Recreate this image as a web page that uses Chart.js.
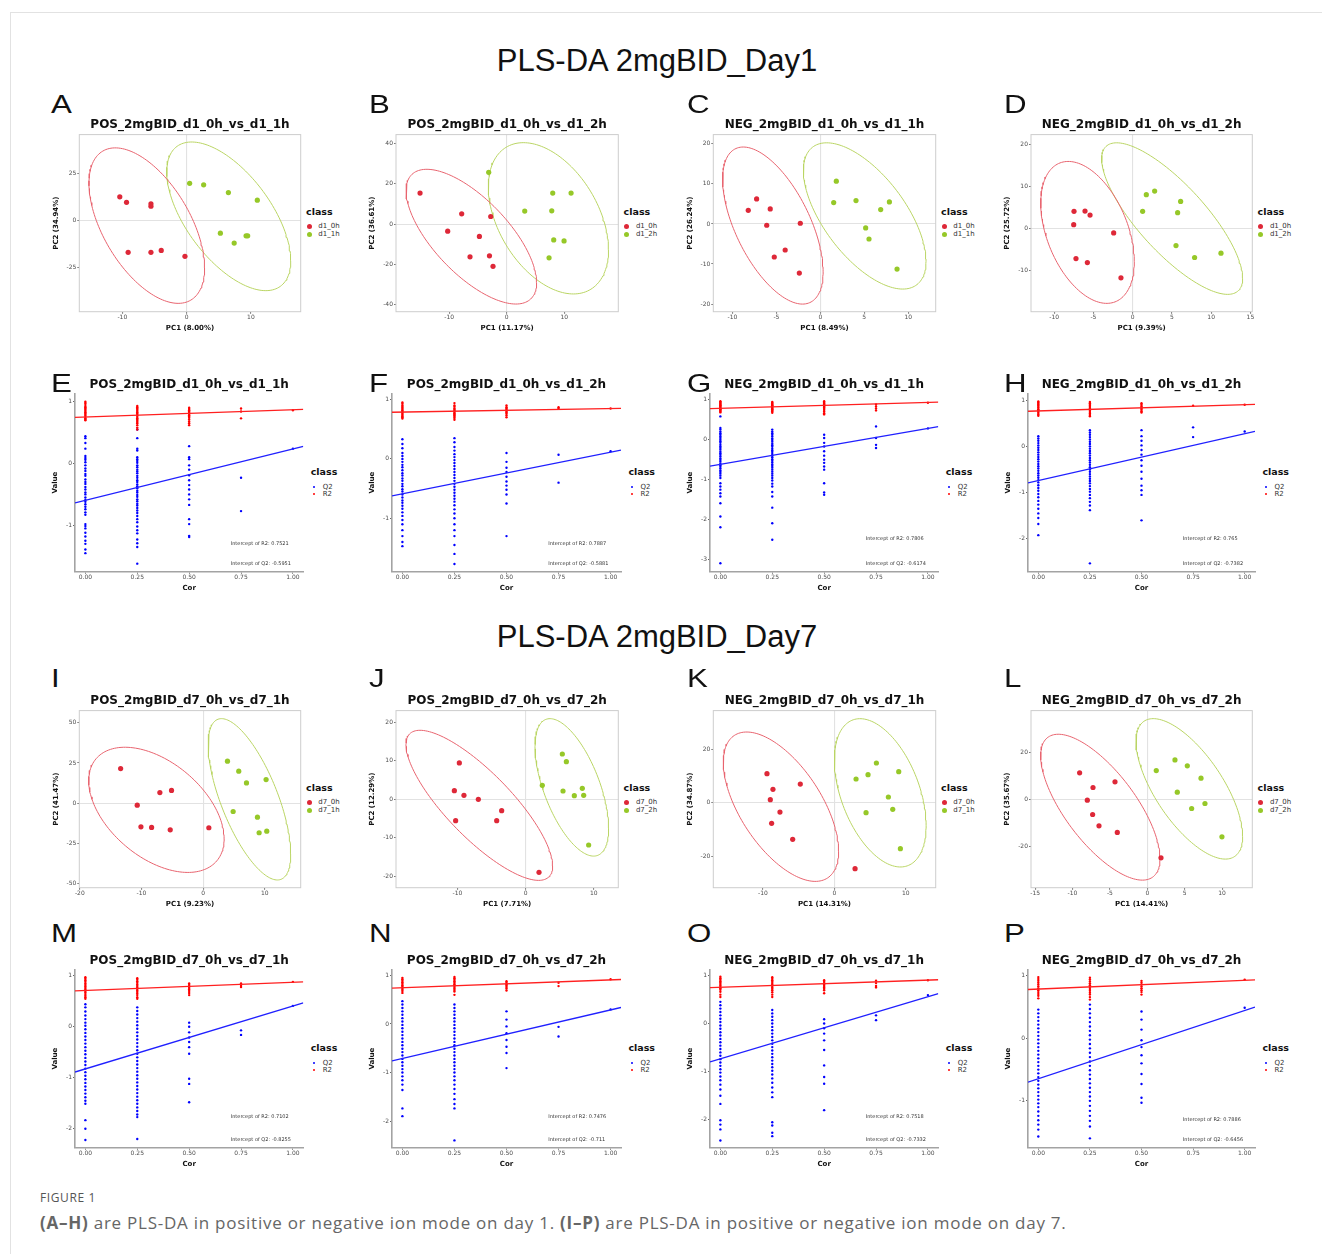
<!DOCTYPE html>
<html>
<head>
<meta charset="utf-8">
<title>PLS-DA 2mgBID</title>
<script src="https://cdn.jsdelivr.net/npm/chart.js@4.4.1/dist/chart.umd.min.js"></script>
<style>
  body { margin: 0; background: #fff; }
  #fig { position: relative; width: 1322px; height: 1254px; overflow: hidden; font-family: "DejaVu Sans", sans-serif; }
  #frame { position: absolute; left: 10px; top: 12px; width: 1312px; height: 1242px; border-left: 1px solid #e2e2e2; border-top: 1px solid #e2e2e2; }
  .lbl { position: absolute; white-space: nowrap; line-height: 1; }
  .dot { position: absolute; border-radius: 50%; }
  canvas { position: absolute; }
</style>
</head>
<body>
<div id="fig"><div id="frame"></div></div>
<script>
// ---------- PLS-DA score plots: [PC1, PC2] per sample ----------
// ellipse = [centre x, centre y, half x-extent, half y-extent, x at the top of the ellipse]
const A_red = [[-10.4,12.5],[-9.35,9.6],[-5.55,8.8],[-5.55,7.5],[-9.1,-16.8],[-5.55,-16.8],[-3.95,-15.8],[-0.26,-18.9]];
const A_green = [[0.47,19.6],[2.65,18.8],[6.5,14.7],[11.0,10.7],[5.25,-6.7],[7.4,-11.9],[9.25,-8.1],[9.5,-8.1]];
const A_ell = [[-6.2,-2.7,9.0,41,-11.1],[6.55,2.2,9.65,39.2,0.78]];

const B_red = [[-15.07,15.4],[-7.83,5.1],[-2.78,3.8],[-10.26,-3.5],[-4.75,-6.1],[-6.38,-16.2],[-3.0,-15.7],[-2.38,-20.9]];
const B_green = [[-3.13,25.7],[8.0,15.4],[11.19,15.4],[3.13,6.5],[7.83,6.6],[8.17,-7.8],[9.97,-8.3],[7.36,-16.7]];
const B_ell = [[-6.15,-6.2,11.35,33.4,-13.9],[7.25,2.9,10.45,37.5,2.9]];

const C_red = [[-7.25,6.25],[-8.2,3.4],[-5.7,3.75],[-6.1,-0.33],[-2.28,0.17],[-4.0,-6.5],[-5.24,-8.25],[-2.39,-12.25]];
const C_green = [[1.82,10.67],[1.52,5.33],[4.06,5.83],[7.86,5.5],[6.87,3.58],[5.16,-1.0],[5.54,-3.75],[8.73,-11.25]];
const C_ell = [[-5.4,-0.4,5.72,19.6,-8.77],[5.05,2.0,6.98,18.25,0.72]];

const D_red = [[-7.47,4.13],[-6.07,4.2],[-5.43,3.25],[-7.51,0.95],[-2.42,-1.03],[-7.22,-7.14],[-5.77,-8.1],[-1.49,-11.75]];
const D_green = [[1.74,8.1],[2.8,8.97],[1.27,4.13],[6.11,6.5],[5.73,3.8],[5.52,-4.05],[7.89,-6.9],[11.25,-5.87]];
const D_ell = [[-5.75,-0.9,5.96,16.95,-8.2],[5.03,2.4,8.98,18.1,-2.04]];

const I_red = [[-13.38,21.5],[-7.02,6.6],[-5.13,7.9],[-10.69,-1.24],[-10.09,-14.7],[-8.36,-15.1],[-5.34,-16.6],[0.92,-15.3]];
const I_green = [[3.94,26.1],[5.77,19.9],[7.02,12.6],[10.2,14.7],[4.86,-5.2],[8.8,-8.7],[9.07,-18.4],[10.31,-17.4]];
const I_ell = [[-7.58,-4.15,10.98,38.95,-12.68],[7.5,2.4,6.69,50.2,2.97]];

const J_red = [[-9.73,9.44],[-10.46,2.25],[-9.05,1.04],[-6.94,0],[-3.52,-2.94],[-4.25,-5.54],[-10.27,-5.54],[1.96,-18.96]];
const J_green = [[5.38,11.77],[5.97,9.78],[2.44,3.64],[5.48,2.16],[8.31,2.86],[7.14,0.95],[8.51,1.04],[9.24,-11.86]];
const J_ell = [[-6.8,-1.56,10.76,19.48,-15.5],[6.77,3.1,5.4,17.84,3.57]];

const K_red = [[-9.44,10.83],[-8.6,4.98],[-8.97,1.12],[-7.62,-3.49],[-4.77,6.97],[-8.79,-7.72],[-5.84,-13.7],[2.9,-24.66]];
const K_green = [[3.04,8.84],[4.72,10.46],[5.89,14.82],[9.02,11.58],[7.57,2.12],[8.18,-2.49],[4.44,-3.74],[9.25,-17.19]];
const K_ell = [[-7.48,-1.5,8.08,27.9,-12.29],[6.43,3.68,6.43,27.7,3.6]];

const L_red = [[-9.05,11.27],[-7.26,5.07],[-8.02,-0.28],[-7.31,-6.34],[-6.46,-11.13],[-4.32,7.46],[-4.01,-13.94],[1.83,-24.65]];
const L_green = [[1.2,12.25],[3.7,16.76],[5.35,14.23],[7.18,9.01],[4.01,3.1],[7.71,-1.69],[5.93,-3.8],[9.98,-15.77]];
const L_ell = [[-6.28,-3.25,7.98,30.85,-11.9],[5.62,4.5,7.13,29.7,0.8]];

// ---------- permutation tests: values per Cor level ----------
const corLevels = [0, 0.25, 0.5, 0.75, 1];
const corTickLabels = ['0.00', '0.25', '0.50', '0.75', '1.00'];

const E_r2 = [[1.0,0.98,0.96,0.93,0.91,0.89,0.87,0.85,0.83,0.81,0.79,0.77,0.75,0.73,0.71,0.7],
  [0.93,0.91,0.89,0.87,0.85,0.83,0.81,0.79,0.77,0.75,0.73,0.71,0.69,0.67,0.65,0.62,0.58,0.55],
  [0.9,0.88,0.86,0.84,0.82,0.8,0.78,0.76,0.74,0.71,0.68,0.65,0.62],[0.89,0.84,0.73],[0.86]];
const E_q2 = [[0.44,0.41,0.33,0.24,0.12,0.09,0.06,0.02,-0.03,-0.08,-0.12,-0.17,-0.2,-0.26,-0.3,-0.33,-0.38,-0.42,-0.47,-0.5,-0.55,-0.59,-0.62,-0.66,-0.7,-0.74,-0.79,-0.83,-0.98,-1.01,-1.05,-1.12,-1.18,-1.25,-1.3,-1.39,-1.45],
  [0.55,0.41,0.24,0.21,0.1,0.07,0.04,0.01,-0.03,-0.06,-0.1,-0.13,-0.16,-0.2,-0.23,-0.27,-0.3,-0.34,-0.37,-0.4,-0.44,-0.47,-0.51,-0.54,-0.58,-0.61,-0.65,-0.68,-0.72,-0.76,-0.8,-0.85,-0.9,-0.95,-1.02,-1.08,-1.13,-1.23,-1.29,-1.35,-1.62],
  [0.28,0.1,0.07,-0.03,-0.1,-0.19,-0.27,-0.35,-0.42,-0.5,-0.58,-0.67,-0.9,-0.98,-1.17,-1.19],[-0.23,-0.77],[0.24]];
const E_fit = [[0.7521, 0.116], [-0.5951, 0.829]]; // [intercept, slope] for R2, Q2

const F_r2 = [[0.95,0.93,0.9,0.88,0.86,0.84,0.82,0.8,0.78,0.76,0.74,0.72,0.7,0.68],
  [0.94,0.9,0.88,0.85,0.83,0.81,0.79,0.77,0.75,0.73,0.71,0.69,0.66],
  [0.9,0.87,0.85,0.83,0.8,0.78,0.76,0.73,0.7],[0.87,0.85],[0.85]];
const F_q2 = [[0.33,0.25,0.18,0.1,0.05,0.0,-0.05,-0.1,-0.14,-0.19,-0.24,-0.28,-0.33,-0.37,-0.42,-0.46,-0.51,-0.55,-0.6,-0.65,-0.7,-0.74,-0.79,-0.84,-0.9,-0.96,-1.03,-1.1,-1.2,-1.3,-1.4,-1.47],
  [0.35,0.28,0.2,0.14,0.08,0.03,-0.02,-0.07,-0.12,-0.17,-0.22,-0.27,-0.32,-0.37,-0.42,-0.47,-0.52,-0.57,-0.62,-0.67,-0.72,-0.78,-0.85,-0.92,-1.0,-1.1,-1.2,-1.3,-1.45,-1.6,-1.77],
  [0.1,-0.05,-0.15,-0.22,-0.3,-0.38,-0.45,-0.52,-0.6,-0.75,-1.3],[0.07,-0.4],[0.13]];
const F_fit = [[0.7887, 0.06], [-0.5881, 0.7]];

const G_r2 = [[0.96,0.94,0.92,0.9,0.88,0.86,0.84,0.82,0.8,0.78,0.76,0.74,0.72,0.7,0.68],
  [0.94,0.92,0.9,0.88,0.86,0.84,0.82,0.8,0.78,0.76,0.74,0.72,0.7,0.67],
  [0.96,0.93,0.9,0.88,0.86,0.84,0.82,0.8,0.77,0.74,0.7,0.66,0.63],[0.88,0.83,0.78,0.73],[0.92]];
const G_q2 = [[0.58,0.29,0.25,0.2,0.16,0.12,0.08,0.04,0.0,-0.04,-0.08,-0.13,-0.17,-0.21,-0.25,-0.3,-0.34,-0.38,-0.42,-0.47,-0.51,-0.55,-0.6,-0.64,-0.68,-0.72,-0.77,-0.81,-0.85,-0.9,-0.96,-1.09,-1.17,-1.25,-1.34,-1.42,-1.59,-1.92,-2.19,-3.09],
  [0.25,0.2,0.16,0.12,0.08,0.03,-0.01,-0.05,-0.1,-0.14,-0.18,-0.23,-0.27,-0.31,-0.36,-0.4,-0.44,-0.49,-0.53,-0.57,-0.62,-0.66,-0.7,-0.75,-0.8,-0.85,-0.9,-0.96,-1.02,-1.1,-1.17,-1.31,-1.42,-1.7,-2.09,-2.5],
  [0.12,0.04,-0.08,-0.17,-0.29,-0.4,-0.5,-0.58,-0.67,-0.75,-1.09,-1.32,-1.38],[0.33,0.04,-0.13,-0.21],[0.28]];
const G_fit = [[0.7806, 0.147], [-0.6174, 0.895]];

const H_r2 = [[0.97,0.95,0.92,0.9,0.88,0.85,0.83,0.8,0.78,0.75,0.72,0.69,0.66],
  [0.96,0.93,0.9,0.88,0.85,0.82,0.8,0.77,0.74,0.71,0.68,0.65],
  [0.93,0.9,0.87,0.85,0.82,0.79,0.76,0.73],[0.88],[0.9]];
const H_q2 = [[0.22,0.17,0.12,0.07,0.02,-0.03,-0.08,-0.13,-0.18,-0.23,-0.28,-0.33,-0.38,-0.43,-0.48,-0.53,-0.58,-0.63,-0.68,-0.73,-0.78,-0.84,-0.9,-0.96,-1.03,-1.1,-1.18,-1.26,-1.35,-1.45,-1.55,-1.68,-1.92],
  [0.35,0.3,0.25,0.2,0.15,0.1,0.05,0.0,-0.05,-0.1,-0.15,-0.2,-0.25,-0.3,-0.35,-0.4,-0.45,-0.5,-0.55,-0.6,-0.65,-0.7,-0.75,-0.8,-0.86,-0.92,-0.98,-1.05,-1.12,-1.2,-1.28,-1.38,-2.53],
  [0.35,0.22,0.12,0.02,-0.08,-0.18,-0.3,-0.42,-0.55,-0.7,-0.85,-0.95,-1.05,-1.6],[0.41,0.2],[0.32]];
const H_fit = [[0.765, 0.135], [-0.7382, 1.01]];

const M_r2 = [[0.97,0.94,0.91,0.88,0.85,0.82,0.79,0.76,0.73,0.7,0.67,0.64,0.61,0.58,0.55],
  [0.95,0.92,0.89,0.86,0.83,0.8,0.77,0.74,0.71,0.68,0.65,0.62,0.58,0.55],
  [0.85,0.82,0.79,0.76,0.73,0.7,0.66,0.62],[0.85,0.82,0.78],[0.88]];
const M_q2 = [[0.44,0.38,0.3,0.22,0.15,0.08,0.02,-0.05,-0.12,-0.19,-0.26,-0.33,-0.4,-0.47,-0.54,-0.61,-0.68,-0.75,-0.82,-0.89,-0.96,-1.03,-1.1,-1.17,-1.24,-1.31,-1.38,-1.45,-1.51,-1.83,-2.0,-2.22],
  [0.38,0.31,0.24,0.17,0.1,0.03,-0.04,-0.11,-0.18,-0.25,-0.32,-0.39,-0.46,-0.53,-0.6,-0.67,-0.74,-0.81,-0.88,-0.95,-1.02,-1.09,-1.16,-1.23,-1.3,-1.37,-1.44,-1.51,-1.58,-1.65,-1.72,-1.77,-2.2],
  [0.08,0.0,-0.11,-0.21,-0.3,-0.4,-0.53,-1.02,-1.12,-1.48],[-0.07,-0.16],[0.41]];
const M_fit = [[0.7102, 0.16], [-0.8255, 1.23]];

const N_r2 = [[0.95,0.92,0.89,0.86,0.83,0.8,0.77,0.74,0.71,0.68,0.64],
  [0.97,0.94,0.91,0.88,0.85,0.82,0.79,0.76,0.73,0.7,0.67,0.6],
  [0.88,0.85,0.82,0.79,0.76,0.73,0.69],[0.85,0.78],[0.92]];
const N_q2 = [[0.47,0.4,0.33,0.26,0.19,0.12,0.05,-0.02,-0.09,-0.16,-0.23,-0.3,-0.37,-0.44,-0.51,-0.58,-0.65,-0.72,-0.79,-0.86,-0.93,-1.0,-1.08,-1.16,-1.25,-1.36,-1.74,-1.9],
  [0.4,0.33,0.26,0.19,0.12,0.05,-0.02,-0.09,-0.16,-0.23,-0.3,-0.37,-0.44,-0.51,-0.58,-0.65,-0.72,-0.79,-0.86,-0.93,-1.0,-1.08,-1.16,-1.25,-1.34,-1.44,-1.55,-1.65,-1.74,-2.4],
  [0.26,0.09,-0.05,-0.19,-0.33,-0.47,-0.6,-0.91],[-0.06,-0.26],[0.3]];
const N_fit = [[0.7476, 0.16], [-0.711, 1.0]];

const O_r2 = [[0.97,0.94,0.91,0.88,0.85,0.82,0.79,0.76,0.73,0.7,0.66,0.6,0.55],
  [0.96,0.93,0.9,0.87,0.84,0.81,0.78,0.75,0.72,0.69,0.65,0.6,0.55],
  [0.9,0.87,0.84,0.81,0.78,0.75,0.72,0.69,0.63],[0.89,0.84,0.78,0.75],[0.9]];
const O_q2 = [[0.45,0.38,0.31,0.24,0.17,0.1,0.03,-0.04,-0.11,-0.18,-0.25,-0.32,-0.39,-0.46,-0.53,-0.6,-0.67,-0.74,-0.81,-0.88,-0.95,-1.02,-1.1,-1.18,-1.27,-1.37,-1.5,-1.67,-2.01,-2.1,-2.2,-2.43],
  [0.28,0.21,0.14,0.07,0.0,-0.07,-0.14,-0.21,-0.28,-0.35,-0.42,-0.49,-0.56,-0.63,-0.7,-0.77,-0.84,-0.91,-0.98,-1.06,-1.14,-1.23,-1.33,-1.43,-1.53,-2.05,-2.12,-2.27,-2.34],
  [0.09,0.0,-0.1,-0.21,-0.35,-0.55,-0.87,-1.11,-1.25,-1.8],[0.17,0.07],[0.59]];
const O_fit = [[0.7518, 0.15], [-0.7332, 1.29]];

const P_r2 = [[0.98,0.95,0.92,0.89,0.86,0.83,0.8,0.77,0.74,0.71,0.68,0.64],
  [0.97,0.94,0.91,0.88,0.85,0.82,0.79,0.76,0.73,0.7,0.66,0.62],
  [0.92,0.89,0.86,0.83,0.8,0.77,0.74,0.7],[],[0.94]];
const P_q2 = [[0.46,0.4,0.34,0.28,0.22,0.16,0.1,0.04,-0.02,-0.08,-0.14,-0.2,-0.26,-0.32,-0.38,-0.44,-0.5,-0.56,-0.62,-0.68,-0.74,-0.8,-0.86,-0.92,-0.98,-1.04,-1.1,-1.17,-1.24,-1.31,-1.38,-1.46,-1.57],
  [0.54,0.47,0.4,0.33,0.26,0.19,0.12,0.05,-0.02,-0.09,-0.16,-0.23,-0.3,-0.37,-0.44,-0.51,-0.58,-0.65,-0.72,-0.79,-0.86,-0.93,-1.0,-1.08,-1.16,-1.24,-1.32,-1.41,-1.6],
  [0.43,0.3,0.14,-0.03,-0.14,-0.27,-0.4,-0.57,-0.73,-0.95,-1.03],[],[0.49]];
const P_fit = [[0.7886, 0.14], [-0.6456, 1.09]];

// ---------- panel list ----------
const pcaPanels = [
  { id:'A', col:0, row:0, title:'POS_2mgBID_d1_0h_vs_d1_1h', xt:'PC1 (8.00%)',  yt:'PC2 (34.94%)', groups:['d1_0h','d1_1h'], red:A_red, green:A_green, ell:A_ell, xr:[-16.7,17.75], yr:[-48.1,45.3], xticks:[-10,0,10], yticks:[-25,0,25] },
  { id:'B', col:1, row:0, title:'POS_2mgBID_d1_0h_vs_d1_2h', xt:'PC1 (11.17%)', yt:'PC2 (36.61%)', groups:['d1_0h','d1_2h'], red:B_red, green:B_green, ell:B_ell, xr:[-19.25,19.4], yr:[-43.4,44.4], xticks:[-10,0,10], yticks:[-40,-20,0,20,40] },
  { id:'C', col:2, row:0, title:'NEG_2mgBID_d1_0h_vs_d1_1h', xt:'PC1 (8.49%)',  yt:'PC2 (26.24%)', groups:['d1_0h','d1_1h'], red:C_red, green:C_green, ell:C_ell, xr:[-12.18,13.13], yr:[-21.9,22.3], xticks:[-10,-5,0,5,10], yticks:[-20,-10,0,10,20] },
  { id:'D', col:3, row:0, title:'NEG_2mgBID_d1_0h_vs_d1_2h', xt:'PC1 (9.39%)',  yt:'PC2 (25.72%)', groups:['d1_0h','d1_2h'], red:D_red, green:D_green, ell:D_ell, xr:[-12.95,15.24], yr:[-19.84,22.46], xticks:[-10,-5,0,5,10,15], yticks:[-10,0,10,20] },
  { id:'I', col:0, row:2, title:'POS_2mgBID_d7_0h_vs_d7_1h', xt:'PC1 (9.23%)',  yt:'PC2 (41.47%)', groups:['d7_0h','d7_1h'], red:I_red, green:I_green, ell:I_ell, xr:[-20.08,15.81], yr:[-52.6,57.6], xticks:[-20,-10,0,10], yticks:[-50,-25,0,25,50] },
  { id:'J', col:1, row:2, title:'POS_2mgBID_d7_0h_vs_d7_2h', xt:'PC1 (7.71%)',  yt:'PC2 (12.29%)', groups:['d7_0h','d7_2h'], red:J_red, green:J_green, ell:J_ell, xr:[-19.02,13.59], yr:[-22.94,23.03], xticks:[-10,0,10], yticks:[-20,-10,0,10,20] },
  { id:'K', col:2, row:2, title:'NEG_2mgBID_d7_0h_vs_d7_1h', xt:'PC1 (14.31%)', yt:'PC2 (34.87%)', groups:['d7_0h','d7_1h'], red:K_red, green:K_green, ell:K_ell, xr:[-16.96,14.2], yr:[-31.76,34.4], xticks:[-10,0,10], yticks:[-20,0,20] },
  { id:'L', col:3, row:2, title:'NEG_2mgBID_d7_0h_vs_d7_2h', xt:'PC1 (14.41%)', yt:'PC2 (35.67%)', groups:['d7_0h','d7_2h'], red:L_red, green:L_green, ell:L_ell, xr:[-15.55,14.04], yr:[-37.3,37.6], xticks:[-15,-10,-5,0,5,10], yticks:[-20,0,20] }
];
const permPanels = [
  { id:'E', col:0, row:1, title:'POS_2mgBID_d1_0h_vs_d1_1h', r2:E_r2, q2:E_q2, fit:E_fit, yr:[-1.75,1.13], yticks:[-1,0,1], txt:[28,8] },
  { id:'F', col:1, row:1, title:'POS_2mgBID_d1_0h_vs_d1_2h', r2:F_r2, q2:F_q2, fit:F_fit, yr:[-1.9,1.1], yticks:[-1,0,1], txt:[28,8] },
  { id:'G', col:2, row:1, title:'NEG_2mgBID_d1_0h_vs_d1_1h', r2:G_r2, q2:G_q2, fit:G_fit, yr:[-3.3,1.15], yticks:[-3,-2,-1,0,1], txt:[32.7,8.4] },
  { id:'H', col:3, row:1, title:'NEG_2mgBID_d1_0h_vs_d1_2h', r2:H_r2, q2:H_q2, fit:H_fit, yr:[-2.71,1.14], yticks:[-2,-1,0,1], txt:[32.7,8.4] },
  { id:'M', col:0, row:3, title:'POS_2mgBID_d7_0h_vs_d7_1h', r2:M_r2, q2:M_q2, fit:M_fit, yr:[-2.37,1.12], yticks:[-2,-1,0,1], txt:[30.7,7.7] },
  { id:'N', col:1, row:3, title:'POS_2mgBID_d7_0h_vs_d7_2h', r2:N_r2, q2:N_q2, fit:N_fit, yr:[-2.55,1.12], yticks:[-2,-1,0,1], txt:[30.7,7.7] },
  { id:'O', col:2, row:3, title:'NEG_2mgBID_d7_0h_vs_d7_1h', r2:O_r2, q2:O_q2, fit:O_fit, yr:[-2.58,1.12], yticks:[-2,-1,0,1], txt:[30.7,7.7] },
  { id:'P', col:3, row:3, title:'NEG_2mgBID_d7_0h_vs_d7_2h', r2:P_r2, q2:P_q2, fit:P_fit, yr:[-1.75,1.1], yticks:[-1,0,1], txt:[27.7,7.7] }
];

// ---------- layout ----------
const PCA_L = [79.3, 396, 713.3, 1031], PCA_R = [300.7, 618.3, 935.7, 1252.3];
const PERM_L = [75, 392, 710, 1028], PERM_R = [303.3, 621, 938.3, 1255];
const ROW_Y = [[134.3, 311.7], [393, 571.7], [710.3, 887.7], [969, 1147.7]];
const TITLE_Y = [124, 384, 700, 960];
const LETTER_X = [51, 369, 687, 1004], LETTER_Y = [104, 383, 678, 933];

const FONT = "'DejaVu Sans', sans-serif";
const RED = '#DE2838', GREEN = '#96C828', RED_ELL = '#E8646F', GREEN_ELL = '#BAD564';
const fig = document.getElementById('fig');

function put(html, x, y, css, anchor) {
  const d = document.createElement('div');
  d.className = 'lbl';
  d.innerHTML = html;
  const tf = anchor === 'cm' ? 'translate(-50%,-50%)'
           : anchor === 'wide' ? 'translate(0,-50%) scaleX(1.25)' : 'translate(0,-50%)';
  d.style.cssText += css + ';left:' + x + 'px;top:' + y + 'px;transform-origin:left center;transform:' + tf;
  fig.appendChild(d);
}
function dot(x, y, r, color) {
  const d = document.createElement('div');
  d.className = 'dot';
  d.style.cssText = 'left:' + (x - r) + 'px;top:' + (y - r) + 'px;width:' + 2 * r + 'px;height:' + 2 * r + 'px;background:' + color;
  fig.appendChild(d);
}
function makeCanvas(l, t, w, h) {
  const c = document.createElement('canvas');
  c.width = w; c.height = h;
  c.style.left = l + 'px'; c.style.top = t + 'px';
  fig.appendChild(c);
  return c;
}
function ellipsePts(e) {
  const d = Math.acos((e[4] - e[0]) / e[2]);
  const pts = [];
  for (let i = 0; i <= 160; i++) {
    const t = i / 160 * 2 * Math.PI;
    pts.push({ x: e[0] + e[2] * Math.cos(t), y: e[1] + e[3] * Math.cos(t - d) });
  }
  return pts;
}

const framePlugin = {
  id: 'frame',
  beforeDatasetsDraw(chart) {
    const a = chart.chartArea, c = chart.ctx;
    c.save();
    c.strokeStyle = '#cdcdcd'; c.lineWidth = 1;
    c.strokeRect(a.left, a.top, a.right - a.left, a.bottom - a.top);
    c.restore();
  }
};
const interceptPlugin = {
  id: 'intercepts',
  afterDatasetsDraw(chart, args, o) {
    const a = chart.chartArea, c = chart.ctx;
    c.save();
    c.font = '5px ' + FONT; c.fillStyle = '#333'; c.textBaseline = 'middle';
    const x = a.left + 0.682 * (a.right - a.left);
    c.fillText('Intercept of R2: ' + o.r2, x, a.bottom - o.dy[0]);
    c.fillText('Intercept of Q2: ' + o.q2, x, a.bottom - o.dy[1]);
    c.restore();
  }
};

function axis(range, ticks, labels, title, size, horiz, perm) {
  return {
    type: 'linear', min: range[0], max: range[1],
    afterBuildTicks: s => { s.ticks = ticks.map(v => ({ value: v })); },
    afterFit: s => { if (horiz) s.height = size; else s.width = size; },
    ticks: { font: { size: 6, family: FONT }, color: '#4d4d4d', padding: horiz ? 0.5 : 1,
             autoSkip: false, maxRotation: 0, callback: (v, i) => labels ? labels[i] : String(v) },
    grid: perm
      ? { drawOnChartArea: false, tickColor: '#666', tickLength: 2 }
      : { color: c => (c.tick && c.tick.value === 0) ? '#e2e2e2' : 'rgba(0,0,0,0)', lineWidth: 1.1, tickColor: '#7a7a7a', tickLength: 2 },
    border: perm ? { display: true, color: '#a3a3a3', width: 1.6 } : { display: false },
    title: { display: true, text: title, font: { size: 7, weight: 'bold', family: FONT }, color: '#111', padding: 0 }
  };
}

function letterAndTitle(p, L, R) {
  put(p.id, LETTER_X[p.col], LETTER_Y[p.row], 'font-family:"Liberation Sans",Arial,sans-serif;font-size:25px;color:#111', 'wide');
  put(p.title, (L + R) / 2, TITLE_Y[p.row], 'font-family:' + FONT + ';font-weight:bold;font-size:12px;color:#111', 'cm');
}

// ---------- PCA score plots ----------
pcaPanels.forEach(p => {
  const L = PCA_L[p.col], R = PCA_R[p.col], T = ROW_Y[p.row][0], B = ROW_Y[p.row][1];
  const cl = Math.floor(L - 27.2), ct = Math.floor(T - 4);
  const cw = Math.ceil(R + 4 - cl), ch = Math.ceil(B + 20 - ct);
  const cv = makeCanvas(cl, ct, cw, ch);
  new Chart(cv, {
    type: 'scatter',
    data: { datasets: [
      { data: p.red.map(([x, y]) => ({ x, y })), backgroundColor: RED, borderWidth: 0, pointRadius: 2.6 },
      { data: p.green.map(([x, y]) => ({ x, y })), backgroundColor: GREEN, borderWidth: 0, pointRadius: 2.6 },
      { data: ellipsePts(p.ell[0]), showLine: true, borderColor: RED_ELL, borderWidth: 1, pointRadius: 0, fill: false },
      { data: ellipsePts(p.ell[1]), showLine: true, borderColor: GREEN_ELL, borderWidth: 1, pointRadius: 0, fill: false }
    ]},
    options: {
      responsive: false, animation: false, events: [],
      layout: { padding: { left: 0, bottom: 0, top: T - ct, right: cw - (R - cl) } },
      plugins: { legend: { display: false }, tooltip: { enabled: false } },
      scales: {
        x: axis(p.xr, p.xticks, null, p.xt, ch - (B - ct), true, false),
        y: axis(p.yr, p.yticks, null, p.yt, L - cl, false, false)
      }
    },
    plugins: [framePlugin]
  });
  letterAndTitle(p, L, R);
  put('class', R + 5.3, T + 77.4, 'font-family:' + FONT + ';font-weight:bold;font-size:9.5px;color:#111', 'lm');
  [RED, GREEN].forEach((col, k) => {
    dot(R + 8.6, T + 92 + k * 7.7, 2.5, col);
    put(p.groups[k], R + 17.6, T + 92 + k * 7.7, 'font-family:' + FONT + ';font-size:7px;color:#333', 'lm');
  });
});

// ---------- permutation plots ----------
function levelPoints(cols) {
  const pts = [];
  cols.forEach((vals, i) => vals.forEach(v => pts.push({ x: corLevels[i], y: v })));
  return pts;
}
function fitLine(f) {
  return [-0.05, 1.05].map(x => ({ x, y: f[0] + f[1] * x }));
}
permPanels.forEach(p => {
  const L = PERM_L[p.col], R = PERM_R[p.col], T = ROW_Y[p.row][0], B = ROW_Y[p.row][1];
  const cl = Math.floor(L - 23.5), ct = Math.floor(T - 4);
  const cw = Math.ceil(R + 4 - cl), ch = Math.ceil(B + 20 - ct);
  const cv = makeCanvas(cl, ct, cw, ch);
  new Chart(cv, {
    type: 'scatter',
    data: { datasets: [
      { data: fitLine(p.fit[0]), showLine: true, borderColor: '#FF2020', borderWidth: 1.3, pointRadius: 0 },
      { data: fitLine(p.fit[1]), showLine: true, borderColor: '#2020FF', borderWidth: 1.3, pointRadius: 0 },
      { data: levelPoints(p.r2), backgroundColor: '#FF0000', borderWidth: 0, pointRadius: 1.2 },
      { data: levelPoints(p.q2), backgroundColor: '#0000FF', borderWidth: 0, pointRadius: 1.2 }
    ]},
    options: {
      responsive: false, animation: false, events: [],
      layout: { padding: { left: 0, bottom: 0, top: T - ct, right: cw - (R - cl) } },
      plugins: { legend: { display: false }, tooltip: { enabled: false },
                 intercepts: { r2: String(p.fit[0][0]), q2: String(p.fit[1][0]), dy: p.txt } },
      scales: {
        x: axis([-0.05, 1.05], corLevels, corTickLabels, 'Cor', ch - (B - ct), true, true),
        y: axis(p.yr, p.yticks, null, 'Value', L - cl, false, true)
      }
    },
    plugins: [interceptPlugin]
  });
  letterAndTitle(p, L, R);
  put('class', R + 7.4, T + 78.7, 'font-family:' + FONT + ';font-weight:bold;font-size:9.5px;color:#111', 'lm');
  [['Q2', '#0000FF'], ['R2', '#FF0000']].forEach(([name, col], k) => {
    dot(R + 10.7, T + 93.7 + k * 7.3, 1.2, col);
    put(name, R + 19.4, T + 93.7 + k * 7.3, 'font-family:' + FONT + ';font-size:7px;color:#333', 'lm');
  });
});

// ---------- headings and caption ----------
put('PLS-DA 2mgBID_Day1', 657, 60, 'font-family:"Liberation Sans",Arial,sans-serif;font-size:31px;color:#111', 'cm');
put('PLS-DA 2mgBID_Day7', 657, 636, 'font-family:"Liberation Sans",Arial,sans-serif;font-size:31px;color:#111', 'cm');
put('FIGURE 1', 40, 1198, 'font-family:"Open Sans",sans-serif;font-size:12px;letter-spacing:0.6px;color:#555', 'lm');
put('<b>(A–H)</b> are PLS-DA in positive or negative ion mode on day 1. <b>(I–P)</b> are PLS-DA in positive or negative ion mode on day 7.',
    40, 1221.5, 'font-family:"Open Sans",sans-serif;font-size:17px;letter-spacing:0.75px;color:#666', 'lm');
</script>
</body>
</html>
